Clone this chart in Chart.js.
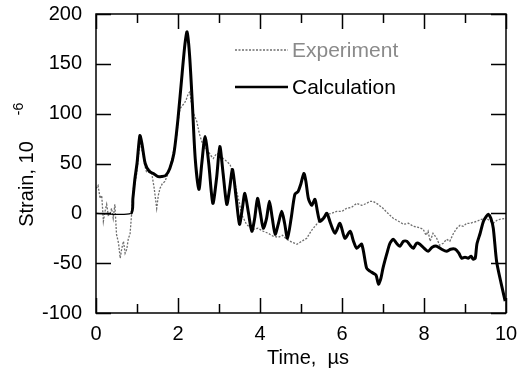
<!DOCTYPE html>
<html>
<head>
<meta charset="utf-8">
<script src="https://cdn.jsdelivr.net/npm/chart.js@4/dist/chart.umd.min.js"></script>
<style>
  html, body { margin: 0; padding: 0; background: #fff; }
  #wrap { width: 518px; height: 373px; position: relative; }
</style>
</head>
<body>
<div id="wrap"><canvas id="strain_chart"></canvas></div>
<script>
// time axis, microseconds
const xTicks = [0, 1, 2, 3, 4, 5, 6, 7, 8, 9, 10];
const yTicks = [-100, -50, 0, 50, 100, 150, 200];
const seriesNames = ['Experiment', 'Calculation'];

const expTime = [
  0, 0.05, 0.1, 0.14, 0.18, 0.22, 0.26, 0.3, 0.34, 0.38,
  0.42, 0.46, 0.5, 0.55, 0.59, 0.63, 0.67, 0.71, 0.75, 0.79,
  0.83, 0.87, 0.91, 0.95, 0.99, 1.03, 1.07, 1.11, 1.15, 1.19,
  1.23, 1.3, 1.36, 1.42, 1.48, 1.52, 1.56, 1.62, 1.68, 1.74,
  1.8, 1.85, 1.89, 1.93, 1.97, 2.01, 2.05, 2.1, 2.15, 2.2,
  2.25, 2.29, 2.32, 2.38, 2.46, 2.52, 2.58, 2.66, 2.74, 2.8,
  2.86, 2.94, 3.02, 3.1, 3.19, 3.27, 3.35, 3.43, 3.5, 3.55,
  3.61, 3.67, 3.75, 3.84, 3.95, 4.08, 4.2, 4.32, 4.45, 4.55,
  4.65, 4.78, 4.9, 5.02, 5.14, 5.26, 5.38, 5.5, 5.63, 5.75,
  5.87, 6.0, 6.11, 6.23, 6.36, 6.48, 6.6, 6.68, 6.76, 6.88,
  7.0, 7.12, 7.25, 7.38, 7.5, 7.62, 7.74, 7.86, 7.98, 8.05,
  8.1, 8.15, 8.22, 8.31, 8.38, 8.47, 8.55, 8.63, 8.72, 8.8,
  8.88, 8.96, 9.04, 9.12, 9.2, 9.29, 9.4, 9.53, 9.62, 9.69,
  9.78, 9.85, 10
];
const expStrain = [
  25, 28, 15, 18, -8, 2, 9, -2, -1, 5,
  -5, 9, -21, -30, -45, -35, -28, -40, -36, -25,
  -21, 0, 25, 30, 39, 55, 72, 65, 59, 48,
  42, 45, 40, 25, 5, 18, 25, 30, 32, 38,
  45, 55, 62, 70, 79, 95, 105, 108, 110, 114,
  120, 122, 112, 100, 92, 80, 72, 65, 62, 58,
  55, 60, 59, 55, 52, 49, 38, 22, 10, -1,
  -6, -11, -14, -16, -15, -18, -20, -23, -24, -22,
  -26, -29, -31, -28, -25, -17, -11, -5, -1, 0,
  2, 2, 5, 6, 10, 8, 10, 12, 12, 9,
  5, 0, -5, -8, -11, -10, -13, -14, -16, -22,
  -18, -28, -20, -25, -32, -30, -26, -28, -20, -15,
  -12, -13, -10, -10, -9, -8, -6, -5, -8, -10,
  -7, -6, -5
];

const calcTime = [
  0, 0.85, 0.9, 0.95, 1.0, 1.07, 1.12, 1.2, 1.3, 1.4,
  1.5, 1.6, 1.7, 1.8, 1.9, 2.0, 2.1, 2.17, 2.22, 2.28,
  2.35, 2.42, 2.51, 2.58, 2.66, 2.75, 2.85, 2.94, 3.02, 3.1,
  3.19, 3.26, 3.33, 3.42, 3.5, 3.57, 3.63, 3.72, 3.8, 3.87,
  3.94, 4.01, 4.08, 4.16, 4.23, 4.3, 4.37, 4.45, 4.53, 4.6,
  4.67, 4.76, 4.85, 4.93, 5.0, 5.07, 5.12, 5.18, 5.26, 5.34,
  5.4, 5.46, 5.55, 5.63, 5.72, 5.83, 5.95, 6.07, 6.2, 6.28,
  6.36, 6.48, 6.6, 6.68, 6.76, 6.83, 6.89, 6.95, 7.0, 7.09,
  7.17, 7.25, 7.33, 7.41, 7.5, 7.58, 7.66, 7.74, 7.82, 7.9,
  8.0, 8.1, 8.2, 8.31, 8.43, 8.55, 8.65, 8.76, 8.85, 8.92,
  9.0, 9.08, 9.15, 9.2, 9.25, 9.29, 9.37, 9.45, 9.52, 9.57,
  9.63, 9.69, 9.77, 9.88, 9.98
];
const calcStrain = [
  0, 0, 15, 35, 50, 78, 70, 50, 42, 40,
  37, 37, 38, 45, 60, 95, 140, 170, 182, 160,
  110, 55, 24, 50, 77, 50, 10, 35, 67, 40,
  9, 25, 44, 15, -11, 5, 20, 0, -18, -5,
  15, 0, -15, -5, 12, -5, -21, -10, 2, -10,
  -25, -5, 19, 22, 30, 40, 32, 15, 8, 14,
  2, -8, -5, 0, -10, -20, -10, -25, -18, -28,
  -35, -31, -55, -58, -60, -62, -71, -65, -55, -41,
  -30, -26, -30, -33, -28, -28, -32, -35, -30, -31,
  -35, -38, -34, -33, -36, -38, -36, -36, -40, -45,
  -44, -45, -43, -46, -45, -31, -20, -8, -3, -1,
  -5, -15, -48, -70, -88
];

const FONT = 'Liberation Sans, Arial, Helvetica, sans-serif';
const EXP_COLOR = '#6e6e6e';

function toPoints(xs, ys) {
  return xs.map((x, i) => ({ x: x, y: ys[i] }));
}

// frame, inward ticks, axis titles and legend
const framePlugin = {
  id: 'frame',
  afterDraw(chart) {
    const ctx = chart.ctx;
    const area = chart.chartArea;
    const sx = chart.scales.x;
    const sy = chart.scales.y;
    ctx.save();
    ctx.strokeStyle = '#000';
    ctx.lineWidth = 1.5;
    ctx.strokeRect(area.left, area.top, area.right - area.left, area.bottom - area.top);

    ctx.beginPath();
    xTicks.forEach(v => {
      const px = Math.round(sx.getPixelForValue(v)) + 0.5;
      const len = v % 2 === 0 ? 15 : 9;
      ctx.moveTo(px, area.bottom); ctx.lineTo(px, area.bottom - len);
      ctx.moveTo(px, area.top); ctx.lineTo(px, area.top + len);
    });
    yTicks.forEach(v => {
      const py = Math.round(sy.getPixelForValue(v)) + 0.5;
      ctx.moveTo(area.left, py); ctx.lineTo(area.left + 15, py);
      ctx.moveTo(area.right, py); ctx.lineTo(area.right - 15, py);
    });
    ctx.stroke();

    // x title
    ctx.fillStyle = '#000';
    ctx.font = '20px ' + FONT;
    ctx.textAlign = 'center';
    ctx.textBaseline = 'middle';
    ctx.fillText('Time,  \u00b5s', (area.left + area.right) / 2 + 7, 358);

    // y title with superscript
    ctx.save();
    ctx.translate(27, 184);
    ctx.rotate(-Math.PI / 2);
    ctx.fillText('Strain, 10', 0, 0);
    ctx.font = '14px ' + FONT;
    ctx.fillText('-6', 75, -8);
    ctx.restore();

    // legend
    const lx = area.left + 139;
    ctx.textAlign = 'left';
    ctx.font = '21px ' + FONT;
    ctx.lineWidth = 1.5;
    ctx.strokeStyle = EXP_COLOR;
    ctx.setLineDash([2, 1.5]);
    ctx.beginPath(); ctx.moveTo(lx, 50); ctx.lineTo(lx + 53, 50); ctx.stroke();
    ctx.setLineDash([]);
    ctx.fillStyle = '#8a8a8a';
    ctx.fillText(seriesNames[0], lx + 57, 51);

    ctx.lineWidth = 2.5;
    ctx.strokeStyle = '#000';
    ctx.beginPath(); ctx.moveTo(lx, 87); ctx.lineTo(lx + 53, 87); ctx.stroke();
    ctx.fillStyle = '#000';
    ctx.fillText(seriesNames[1], lx + 57, 88);
    ctx.restore();
  }
};

new Chart(document.getElementById('strain_chart'), {
  type: 'line',
  data: {
    datasets: [{
      label: seriesNames[0],
      data: toPoints(expTime, expStrain),
      borderColor: EXP_COLOR,
      borderWidth: 1.3,
      borderDash: [2, 1.5],
      pointRadius: 0,
      tension: 0,
      order: 2
    }, {
      label: seriesNames[1],
      data: toPoints(calcTime, calcStrain),
      borderColor: '#000',
      borderWidth: 3,
      pointRadius: 0,
      tension: 0.25,
      order: 1,
      segment: {
        borderWidth: ctx => (ctx.p0.parsed.y === 0 && ctx.p1.parsed.y === 0) ? 1.2 : 3
      }
    }]
  },
  options: {
    responsive: true,
    maintainAspectRatio: false,
    animation: false,
    layout: { padding: { top: 14, right: 12, left: 0, bottom: 0 } },
    plugins: {
      legend: { display: false },
      tooltip: { enabled: false }
    },
    scales: {
      x: {
        type: 'linear',
        min: 0,
        max: 10,
        afterFit: scale => {
          scale.height = 60;
          scale.paddingLeft = 0;
          scale.paddingRight = 0;
        },
        border: { display: false },
        grid: { display: false, drawTicks: false },
        ticks: {
          stepSize: 2,
          padding: 9,
          color: '#000',
          font: { family: FONT, size: 20 }
        }
      },
      y: {
        min: -100,
        max: 200,
        afterFit: scale => {
          scale.width = 96;
          scale.paddingTop = 0;
          scale.paddingBottom = 0;
        },
        border: { display: false },
        grid: { display: false, drawTicks: false },
        ticks: {
          stepSize: 50,
          padding: 14,
          color: '#000',
          font: { family: FONT, size: 20 }
        }
      }
    }
  },
  plugins: [framePlugin]
});
</script>
</body>
</html>
